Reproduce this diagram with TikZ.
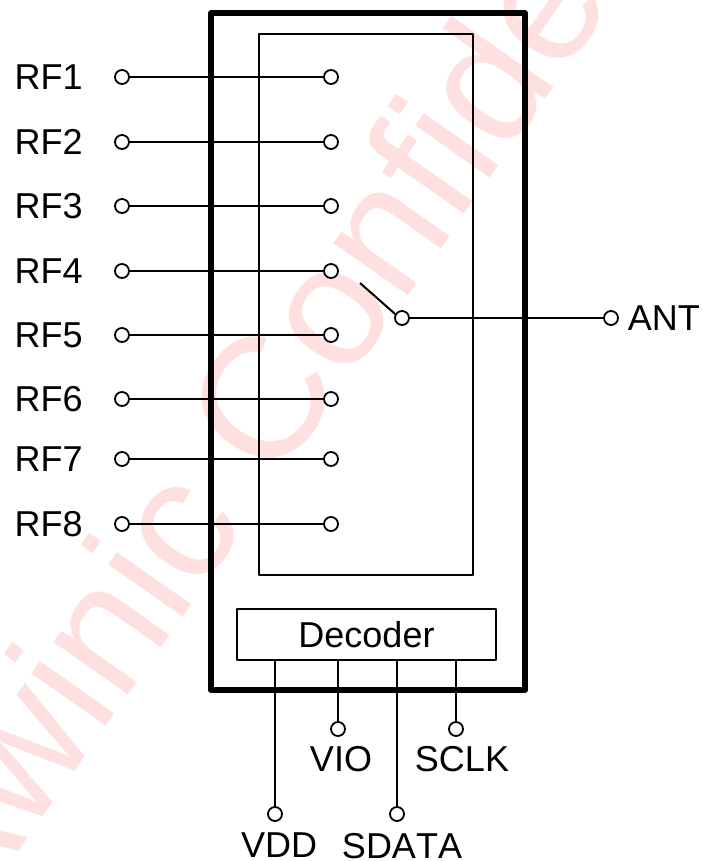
\documentclass[tikz,border=0pt]{standalone}
\usepackage{fontspec}
\setmainfont[Kerning=Off]{Liberation Sans}
\usetikzlibrary{positioning}

\begin{document}
\begin{tikzpicture}[x=1pt,y=-1pt,
    line width=2pt,
    pin/.style={circle,draw,fill=white,inner sep=0,minimum size=14pt,line width=1.8pt},
    box/.style={draw,inner sep=0,outer sep=0,line join=round},
    txt/.style={inner sep=0,font=\fontsize{36}{36}\selectfont}
  ]
  \useasboundingbox (0,0) rectangle (701,861);

  \node[rotate=55,text=red!12,inner sep=0,font=\fontsize{172}{172}\selectfont] (mark) at (329,301) {Awinic Confidential};

  \node[box,line width=6pt,minimum width=314pt,minimum height=677pt] (chip) at (368,351.5) {};
  \node[box,minimum width=214pt,minimum height=541pt] (sw) at (366,304.5) {};
  \node[box,txt,draw,line width=2pt,minimum width=259pt,minimum height=51pt] (decoder) at (366.5,634.5) {Decoder};

  \node[pin] (rf1) at (122,77) {};
  \node[pin] (rf2) at (122,142) {};
  \node[pin] (rf3) at (122,206) {};
  \node[pin] (rf4) at (122,271) {};
  \node[pin] (rf5) at (122,335) {};
  \node[pin] (rf6) at (122,399) {};
  \node[pin] (rf7) at (122,459) {};
  \node[pin] (rf8) at (122,524) {};

  \node[pin] (t1) at (331,77) {};
  \node[pin] (t2) at (331,142) {};
  \node[pin] (t3) at (331,206) {};
  \node[pin] (t4) at (331,271) {};
  \node[pin] (t5) at (331,335) {};
  \node[pin] (t6) at (331,399) {};
  \node[pin] (t7) at (331,459) {};
  \node[pin] (t8) at (331,524) {};

  \node[pin] (com) at (402,318) {};
  \node[pin] (ant) at (611,318) {};
  \coordinate (arm) at (360,283);

  \node[pin] (vdd) at (275,814) {};
  \node[pin] (vio) at (338,729) {};
  \node[pin] (sdata) at (397,814) {};
  \node[pin] (sclk) at (456,729) {};

  \node[txt,left=30.5pt of rf1] (rf1_l) {RF1};
  \node[txt,left=30.5pt of rf2] (rf2_l) {RF2};
  \node[txt,left=30.5pt of rf3] (rf3_l) {RF3};
  \node[txt,left=30.5pt of rf4] (rf4_l) {RF4};
  \node[txt,left=30.5pt of rf5] (rf5_l) {RF5};
  \node[txt,left=30.5pt of rf6] (rf6_l) {RF6};
  \node[txt,left=30.5pt of rf7] (rf7_l) {RF7};
  \node[txt,left=30.5pt of rf8] (rf8_l) {RF8};
  \node[txt,right=8pt of ant] (ant_l) {ANT};
  \node[txt,below=10pt of vdd,xshift=4pt] (vdd_l) {VDD};
  \node[txt,below=8pt of vio,xshift=3pt] (vio_l) {VIO};
  \node[txt,below=10pt of sdata,xshift=5pt] (sdata_l) {SDATA};
  \node[txt,below=8pt of sclk,xshift=6pt] (sclk_l) {SCLK};

  \draw (rf1) -- (t1);
  \draw (rf2) -- (t2);
  \draw (rf3) -- (t3);
  \draw (rf4) -- (t4);
  \draw (rf5) -- (t5);
  \draw (rf6) -- (t6);
  \draw (rf7) -- (t7);
  \draw (rf8) -- (t8);
  \draw (com) -- (ant);
  \draw (arm) -- (com.150);
  \draw (decoder.south -| vdd) -- (vdd);
  \draw (decoder.south -| vio) -- (vio);
  \draw (decoder.south -| sdata) -- (sdata);
  \draw (decoder.south -| sclk) -- (sclk);
\end{tikzpicture}
\end{document}
